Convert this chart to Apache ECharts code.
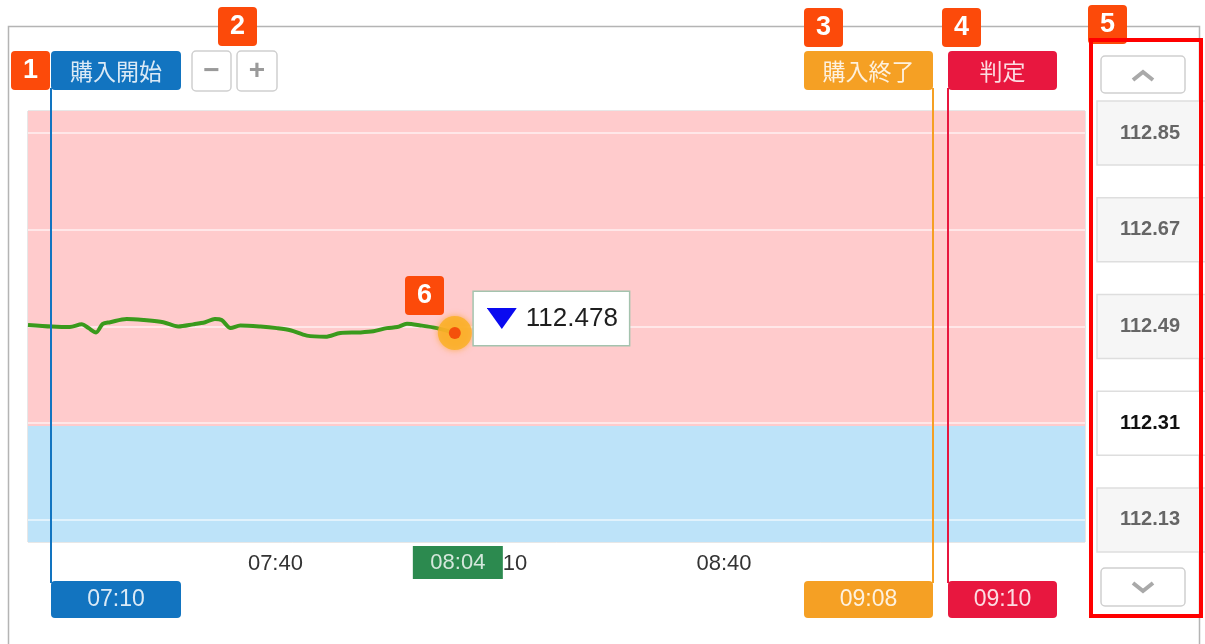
<!DOCTYPE html>
<html>
<head>
<meta charset="utf-8">
<script src="https://cdn.jsdelivr.net/npm/echarts@6/dist/echarts.min.js"></script>
<style>
html, body { margin: 0; padding: 0; background: #fff; }
#chart { width: 1205px; height: 644px; }
</style>
</head>
<body>
<div id="chart"></div>
<script>
// minutes since midnight / rate
var times = [426.9, 430.1, 432.5, 434.1, 435.0, 436.0, 436.9, 437.9, 440.1, 442.4, 445.0, 447.0, 449.0, 450.6, 451.9, 452.8,
    454.0, 455.3, 458.0, 460.2, 462.0, 464.2, 466.7, 468.7, 471.3, 473.1, 474.9, 476.3, 477.6, 479.4, 481.6, 484.0];
var prices = [112.493, 112.490, 112.489, 112.494, 112.487, 112.479, 112.495, 112.498, 112.504, 112.502, 112.498, 112.490, 112.494, 112.498, 112.504, 112.502,
    112.487, 112.492, 112.490, 112.487, 112.483, 112.473, 112.471, 112.478, 112.479, 112.481, 112.487, 112.489, 112.495, 112.492, 112.487, 112.478];
var rateTicks = [112.85, 112.67, 112.49, 112.31, 112.13];
var selectedRate = 112.31;
var timeTicks = [460, 490, 520];
var strike = 112.305;
var nowTime = 484, nowPrice = 112.478;
var startTime = 430, closeTime = 548, judgeTime = 550;
var xMin = 426.9, xMax = 568.3, yMin = 112.089, yMax = 112.891;

var numFont = 'Liberation Sans, Arial, sans-serif';
var jpFont = 'Noto Sans CJK JP, sans-serif';

function hm(m) {
    var h = Math.floor(m / 60), mm = Math.round(m % 60);
    return (h < 10 ? '0' : '') + h + ':' + (mm < 10 ? '0' : '') + mm;
}

var triSvg = 'data:image/svg+xml;utf8,' + encodeURIComponent(
    '<svg xmlns="http://www.w3.org/2000/svg" width="30" height="21"><polygon points="0,0 30,0 15,21" fill="#0a0af0"/></svg>');

var chart = echarts.init(document.getElementById('chart'));

var option = {
    animation: false,
    grid: {
        left: 28, right: 120, top: 111, bottom: 102,
        show: true, borderColor: '#cfcfcf', borderWidth: 1, backgroundColor: 'transparent'
    },
    xAxis: {
        type: 'value', min: xMin, max: xMax,
        axisLine: { show: false }, axisTick: { show: false }, splitLine: { show: false },
        axisLabel: {
            customValues: timeTicks, formatter: hm, margin: 11,
            fontSize: 22, color: '#333', fontFamily: numFont
        }
    },
    yAxis: {
        type: 'value', min: yMin, max: yMax, scale: true,
        axisLine: { show: false }, axisTick: { show: false },
        axisLabel: { show: false }, splitLine: { show: false }
    },
    series: [
        {
            // background zones and rate grid lines
            type: 'line', name: 'zones', data: [], z: 1, silent: true,
            markArea: {
                silent: true, z: 1,
                data: [
                    [{ yAxis: strike, itemStyle: { color: '#ffcbcc' } }, { yAxis: yMax }],
                    [{ yAxis: yMin, itemStyle: { color: '#bde3f9' } }, { yAxis: strike }]
                ]
            },
            markLine: {
                silent: true, z: 2, symbol: 'none', label: { show: false },
                lineStyle: { color: 'rgba(255,255,255,0.55)', width: 2, type: 'solid' },
                data: rateTicks.map(function (v) { return { yAxis: v }; })
            }
        },
        {
            type: 'line', name: 'rate',
            data: times.map(function (t, i) { return [t, prices[i]]; }),
            showSymbol: false, smooth: 0.3, z: 3,
            lineStyle: { color: '#3a9a1c', width: 4 }
        },
        {
            type: 'scatter', name: 'glow', z: 4, silent: true,
            data: [[nowTime, nowPrice]], symbolSize: 34,
            itemStyle: { color: 'rgba(250,176,40,0.85)', opacity: 1, shadowBlur: 6, shadowColor: 'rgba(250,160,30,0.8)' }
        },
        {
            type: 'scatter', name: 'now', z: 5, silent: true,
            data: [[nowTime, nowPrice]], symbolSize: 12,
            itemStyle: { color: '#f4510b', opacity: 1 },
            label: {
                show: true, position: [25, -35], opacity: 1,
                formatter: function (p) { return '{t|}{v|' + p.value[1].toFixed(3) + '}'; },
                backgroundColor: '#fff', borderColor: '#a4c3ae', borderWidth: 1.5,
                padding: [10, 11, 10, 13],
                rich: {
                    t: { width: 30, height: 21, backgroundColor: { image: triSvg } },
                    v: { fontSize: 26, color: '#1e1e1e', fontFamily: numFont, lineHeight: 33, padding: [0, 0, 0, 9] }
                }
            }
        }
    ]
};
chart.setOption(option);

function px(t) { return chart.convertToPixel({ xAxisIndex: 0 }, t); }
function py(v) { return chart.convertToPixel({ yAxisIndex: 0 }, v); }

function txt(x, y, text, size, color, font, weight) {
    return {
        type: 'text', z: 20, silent: true,
        style: {
            x: x, y: y, text: text, fill: color, fontSize: size, fontFamily: font, fontWeight: weight || 'normal',
            align: 'center', verticalAlign: 'middle', textAlign: 'center', textVerticalAlign: 'middle'
        }
    };
}

function box(x, y, w, h, fill, stroke, r) {
    return {
        type: 'rect', z: 15, silent: true,
        shape: { x: x, y: y, width: w, height: h, r: r || 0 },
        style: { fill: fill, stroke: stroke || null, lineWidth: stroke ? 1.5 : 0 }
    };
}

function eventTag(t, color, top, bottom, w, leftSide) {
    var x = Math.round(px(t)), left = leftSide ? x - w : x;
    return [
        { type: 'line', z: 14, silent: true, shape: { x1: x, y1: 88, x2: x, y2: 583 }, style: { stroke: color, lineWidth: 2 } },
        box(left, 51, w, 39, color, null, 4),
        txt(left + w / 2, 71, top, 23, 'rgba(255,255,255,0.85)', jpFont),
        box(left, 581, w, 37, color, null, 4),
        txt(left + w / 2, 600, bottom, 23, 'rgba(255,255,255,0.85)', numFont)
    ];
}

function badge(x, y, n) {
    return [
        box(x, y, 39, 39, '#fc4a0a', null, 4),
        txt(x + 19.5, y + 20, String(n), 27, '#fff', numFont, 'bold')
    ];
}

var g = [];
// outer frame
g.push({ type: 'rect', z: 1, silent: true, shape: { x: 8.5, y: 26.5, width: 1191, height: 640 }, style: { fill: null, stroke: '#b4b4b4', lineWidth: 1.5 } });

g = g.concat(eventTag(startTime, '#1274c0', '購入開始', hm(startTime), 130, false));
g = g.concat(eventTag(closeTime, '#f5a024', '購入終了', hm(closeTime), 129, true));
g = g.concat(eventTag(judgeTime, '#e8173f', '判定', hm(judgeTime), 109, false));

// zoom buttons
g.push(box(192, 51, 39, 40, '#fff', '#cfcfcf', 4));
g.push(txt(211.5, 71, '−', 28, '#9a9a9a', numFont, 'bold'));
g.push(box(237, 51, 40, 40, '#fff', '#cfcfcf', 4));
g.push(txt(257, 71, '+', 28, '#9a9a9a', numFont, 'bold'));

// current time tag
var nx = px(nowTime);
g.push(box(nx - 42, 546, 90, 33, '#2c8a4f', null, 0));
g.push(txt(nx + 3, 563, hm(nowTime), 22, 'rgba(255,255,255,0.8)', numFont));

// rate panel
g.push(box(1101, 56, 84, 37, '#fff', '#cfcfcf', 4));
g.push({ type: 'polyline', z: 16, silent: true, shape: { points: [[1133, 80], [1143, 72], [1153, 80]] }, style: { stroke: '#a9a9a9', lineWidth: 4, fill: null } });
rateTicks.forEach(function (v) {
    var y = py(v), sel = v === selectedRate;
    g.push(box(1097, y - 32, 112, 64, sel ? '#fff' : '#f6f6f6', '#dedede', 0));
    g.push(txt(1150, y, v.toFixed(2), 20, sel ? '#111' : '#666', numFont, 'bold'));
});
g.push(box(1101, 568, 84, 38, '#fff', '#cfcfcf', 4));
g.push({ type: 'polyline', z: 16, silent: true, shape: { points: [[1133, 583], [1143, 591], [1153, 583]] }, style: { stroke: '#a9a9a9', lineWidth: 4, fill: null } });
g.push({ type: 'rect', z: 18, silent: true, shape: { x: 1091, y: 40, width: 110, height: 576 }, style: { fill: null, stroke: '#ff0000', lineWidth: 4 } });

// numbered badges
g = g.concat(badge(11, 51, 1));
g = g.concat(badge(218, 7, 2));
g = g.concat(badge(804, 8, 3));
g = g.concat(badge(942, 8, 4));
g = g.concat(badge(1088, 5, 5));
g = g.concat(badge(Math.round(nx) - 50, 276, 6));

chart.setOption({ graphic: g });

window.addEventListener('resize', function () {
    chart.resize();
});
</script>
</body>
</html>
